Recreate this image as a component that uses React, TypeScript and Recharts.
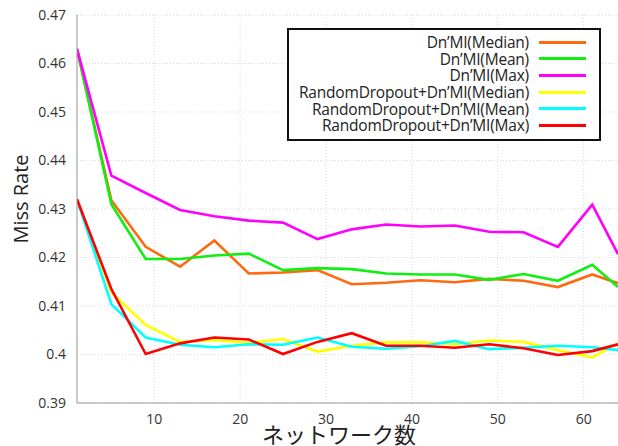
import { LineChart, Line, XAxis, YAxis, CartesianGrid } from 'recharts'

const networks = [1, 5, 9, 13, 17, 21, 25, 29, 33, 37, 41, 45, 49, 53, 57, 61, 64]

const dnMedian = [0.463, 0.4318, 0.4222, 0.4181, 0.4235, 0.4167, 0.4169, 0.4174, 0.4145, 0.4148, 0.4153, 0.4149, 0.4156, 0.4152, 0.4139, 0.4165, 0.4147]
const dnMean = [0.463, 0.431, 0.4197, 0.4197, 0.4204, 0.4208, 0.4174, 0.4178, 0.4176, 0.4167, 0.4165, 0.4165, 0.4154, 0.4166, 0.4152, 0.4185, 0.4139]
const dnMax = [0.463, 0.4369, 0.4333, 0.4298, 0.4285, 0.4276, 0.4272, 0.4238, 0.4258, 0.4268, 0.4264, 0.4266, 0.4253, 0.4252, 0.4222, 0.4309, 0.4207]
const rdMedian = [0.432, 0.4128, 0.4061, 0.4026, 0.403, 0.4024, 0.4032, 0.4006, 0.4018, 0.4025, 0.4025, 0.4021, 0.4029, 0.4026, 0.4009, 0.3994, 0.4023]
const rdMean = [0.432, 0.4104, 0.4035, 0.402, 0.4015, 0.4021, 0.402, 0.4035, 0.4016, 0.4012, 0.4017, 0.4028, 0.4011, 0.4014, 0.4018, 0.4015, 0.4009]
const rdMax = [0.432, 0.4135, 0.4001, 0.4023, 0.4035, 0.4031, 0.4001, 0.4026, 0.4044, 0.4018, 0.4018, 0.4014, 0.4021, 0.4013, 0.3999, 0.4007, 0.4021]

const xTicks = [10, 20, 30, 40, 50, 60]
const yTicks = [0.39, 0.4, 0.41, 0.42, 0.43, 0.44, 0.45, 0.46, 0.47]

const series = [
  { key: 'dnMedian', name: 'Dn’MI(Median)', color: '#FF6A10', values: dnMedian },
  { key: 'dnMean', name: 'Dn’MI(Mean)', color: '#11EE11', values: dnMean },
  { key: 'dnMax', name: 'Dn’MI(Max)', color: '#FF00FF', values: dnMax },
  { key: 'rdMedian', name: 'RandomDropout+Dn’MI(Median)', color: '#FFFF00', values: rdMedian },
  { key: 'rdMean', name: 'RandomDropout+Dn’MI(Mean)', color: '#00FFFF', values: rdMean },
  { key: 'rdMax', name: 'RandomDropout+Dn’MI(Max)', color: '#FF0000', values: rdMax },
]

const chartData = networks.map((n, i) => {
  const row: Record<string, number> = { n }
  series.forEach(s => { row[s.key] = s.values[i] })
  return row
})

const font = '"Open Sans", sans-serif'

function LegendBox() {
  return (
    <div style={{
      position: 'absolute', left: 287, top: 28, width: 310, height: 105,
      border: '2px solid #111', background: '#fff', paddingTop: 4,
      fontFamily: font, fontSize: 15.5, color: '#222', boxSizing: 'content-box'
    }}>
      {series.map(s => (
        <div key={s.key} style={{ display: 'flex', alignItems: 'center', justifyContent: 'flex-end', height: 16.6, paddingRight: 13 }}>
          <span style={{ marginRight: 10, whiteSpace: 'nowrap', letterSpacing: -0.2 }}>{s.name}</span>
          <div style={{ width: 47, height: 3, background: s.color }} />
        </div>
      ))}
    </div>
  )
}

export default function App() {
  return (
    <div style={{ position: 'absolute', left: 0, top: 0, width: 618, height: 446, background: '#fff', overflow: 'hidden' }}>
      <LineChart width={618} height={446} data={chartData} margin={{ top: 15, right: 0, left: 0, bottom: 0 }}>
        <CartesianGrid stroke="#d8d8d8" strokeDasharray="1 2" />
        <XAxis
          dataKey="n" type="number" domain={[1, 64]} ticks={xTicks} allowDataOverflow
          height={43} stroke="#999" tickLine={false}
          tick={{ fill: '#333', fontSize: 14, fontFamily: font }} tickMargin={5}
        />
        <XAxis xAxisId="top" orientation="top" type="number" domain={[1, 64]} ticks={xTicks}
          height={0} mirror stroke="#999" tickSize={5} tickFormatter={() => ''} />
        <YAxis
          domain={[0.39, 0.47]} ticks={yTicks} allowDataOverflow width={77} stroke="#999" tickLine={false}
          tick={{ fill: '#333', fontSize: 14, fontFamily: font }} tickMargin={5}
          tickFormatter={(v: number) => String(Number(v.toFixed(2)))}
        />
        <YAxis yAxisId="right" orientation="right" domain={[0.39, 0.47]} ticks={yTicks} width={0}
          mirror stroke="#999" tickSize={5} tickFormatter={() => ''} />
        {series.map(s => (
          <Line key={s.key} type="linear" dataKey={s.key} name={s.name} stroke={s.color}
            strokeWidth={2.6} dot={false} isAnimationActive={false} />
        ))}
      </LineChart>
      <LegendBox />
      <div style={{
        position: 'absolute', left: 20, top: 199, transform: 'translate(-50%, -50%) rotate(-90deg)',
        fontFamily: font, fontSize: 20, color: '#222', whiteSpace: 'nowrap'
      }}>Miss Rate</div>
      <div style={{
        position: 'absolute', left: 339, top: 433, transform: 'translate(-50%, -50%)',
        fontFamily: '"Noto Sans CJK JP", sans-serif', fontSize: 22, color: '#222', whiteSpace: 'nowrap'
      }}>ネットワーク数</div>
    </div>
  )
}
